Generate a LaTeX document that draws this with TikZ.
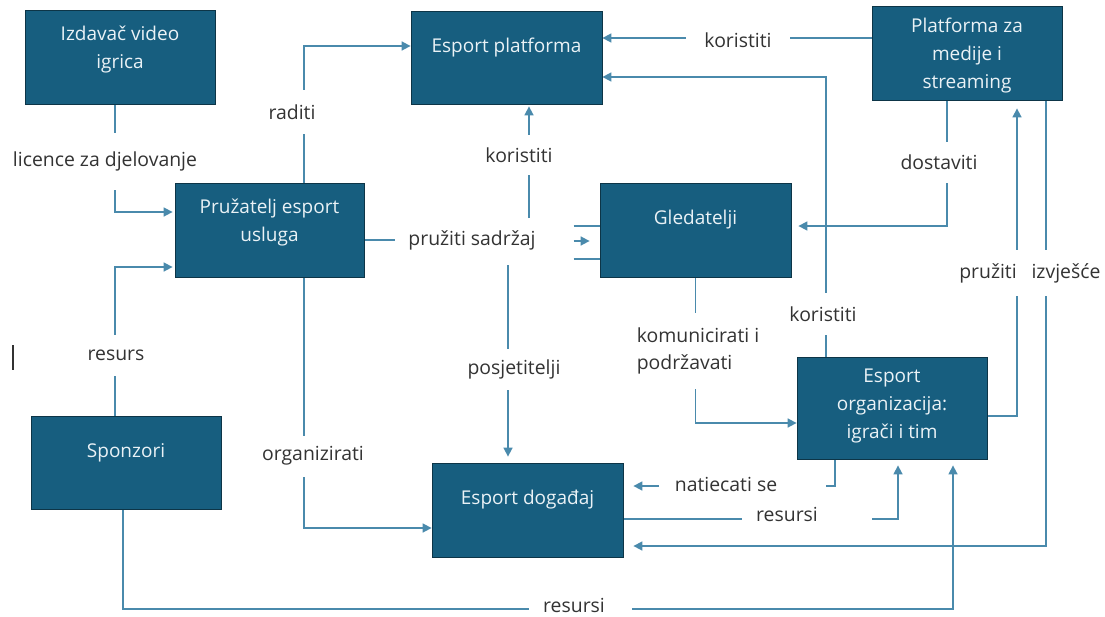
\documentclass[tikz,border=0pt]{standalone}
\usepackage{fontspec}
\setmainfont{Open Sans}
\usetikzlibrary{arrows.meta}
\pgfdeclarelayer{bg}
\pgfsetlayers{bg,main}
\definecolor{boxfill}{HTML}{175E7F}
\definecolor{boxline}{HTML}{0D3547}
\definecolor{conn}{HTML}{4A8AAC}
\definecolor{lbl}{HTML}{333333}
\definecolor{btxt}{HTML}{EAF2F6}
\tikzset{
  box/.style={draw=boxline, fill=boxfill, line width=0.8pt, inner sep=0pt},
  btext/.style={text=btxt, font=\fontsize{19}{28}\selectfont, align=center},
  lab/.style={fill=white, text=lbl, font=\fontsize{19.4}{27}\selectfont, inner xsep=2pt, inner ysep=0pt, align=left},
  txt/.style={text=lbl, font=\fontsize{19.4}{27}\selectfont, inner sep=0pt, align=left},
  conn/.style={draw=conn, line width=1.6pt},
  arr/.style={conn, -{Triangle[length=9pt,width=9pt]}},
}
\begin{document}
\begin{tikzpicture}[x=1pt,y=-1pt]
\useasboundingbox (0,0) rectangle (1105,616);
% boxes
\node[box, minimum width=190, minimum height=94, label={[btext, yshift=7pt]center:Izdavač video\\igrica}] (izd) at (120,57) {};
\node[box, minimum width=191, minimum height=93, label={[btext, yshift=9.5pt]center:Esport platforma}] (plat) at (506.5,57.5) {};
\node[box, minimum width=190, minimum height=94, label={[btext, yshift=-3pt]center:Platforma za\\medije i\\streaming}] (med) at (967,53) {};
\node[box, minimum width=189, minimum height=94, label={[btext, yshift=7.5pt]center:Pružatelj esport\\usluga}] (pruz) at (269.5,230) {};
\node[box, minimum width=191, minimum height=94, label={[btext, yshift=10pt]center:Gledatelji}] (gled) at (695.5,230) {};
\node[box, minimum width=190, minimum height=93, label={[btext, yshift=9.5pt]center:Sponzori}] (spon) at (126,462.5) {};
\node[box, minimum width=191, minimum height=94, label={[btext, yshift=10pt]center:Esport događaj}] (dog) at (527.5,510) {};
\node[box, minimum width=190, minimum height=102, label={[btext, yshift=2pt]center:Esport\\organizacija:\\igrači i tim}] (org) at (892,408) {};

\begin{pgfonlayer}{bg}
% connectors
\draw[arr, shorten >=2pt] ([xshift=-5pt]izd.south) |- ([yshift=18pt]pruz.west);
\draw[arr] ([xshift=34.5pt]pruz.north) |- ([yshift=11.5pt]plat.west);
\draw[arr, shorten >=2pt] ([xshift=-11pt]spon.north) |- ([yshift=-37pt]pruz.west);
\draw[arr] ([xshift=34.5pt]pruz.south) |- ([yshift=-18pt]dog.west);
\draw[arr] ([yshift=15pt]med.west) -- ([yshift=19.5pt]plat.east);
\draw[arr] ([xshift=-66pt]org.north) |- ([yshift=-19.5pt]plat.east);
\draw[arr, shorten >=7pt] ([xshift=-20pt]med.south) |- ([yshift=4pt]gled.east);
\draw[arr, shorten >=8pt] ([yshift=-8pt]org.east) -| ([xshift=50pt]med.south);
\draw[arr, shorten >=10pt] ([xshift=79pt]med.south) |- ([yshift=-36pt]dog.east);
\draw[arr] (gled.south) |- ([yshift=-15pt]org.west);

% hub of "pruziti sadrzaj"
\node[txt] (ps) at (472,240) {pružiti sadržaj};
\coordinate (hubW) at (395,240);
\coordinate (hubN) at (529,218);
\coordinate (hubS) at (508,265);
\draw[conn] ([yshift=-10pt]pruz.east) -- (hubW);
\draw[arr, shorten >=2pt] (hubN) -- ([xshift=22.5pt]plat.south);
\draw[arr, shorten >=6pt] (hubS) -- ([xshift=-19.5pt]dog.north);
\draw[arr] ([xshift=-26pt,yshift=-11pt]gled.west) -- ([xshift=-10pt,yshift=-11pt]gled.west);
\draw[conn] ([xshift=-26pt,yshift=4pt]gled.west) -- ([yshift=4pt]gled.west);
\draw[conn] ([xshift=-26pt,yshift=-29pt]gled.west) -- ([yshift=-29pt]gled.west);

% natiecati se
\coordinate (natE) at (826,486);
\coordinate (natW) at (659,486);
\draw[conn] ([xshift=-57pt]org.south) |- (natE);
\draw[arr, shorten >=10pt] (natW) -- ([yshift=24pt]dog.east);
\node[txt] (natl) at (726,484) {natiecati se};

% resursi (dogadaj -> organizacija)
\coordinate (res1W) at (742,519);
\coordinate (res1E) at (872,519);
\draw[conn] ([yshift=-9pt]dog.east) -- (res1W);
\draw[arr, shorten >=6pt] (res1E) -| ([xshift=6pt]org.south);
\node[txt] (res1l) at (787,514) {resursi};

% resursi (sponzori -> organizacija)
\coordinate (res2W) at (529,609);
\coordinate (res2E) at (632,609);
\draw[conn] ([xshift=-3pt]spon.south) |- (res2W);
\draw[arr, shorten >=6pt] (res2E) -| ([xshift=61pt]org.south);
\node[txt] (res2l) at (574,605) {resursi};

% gap labels
\node[lab, minimum height=57] (l1) at (105,161) {licence za djelovanje};
\node[lab, minimum height=44] (l2) at (292,112) {raditi};
\node[lab, minimum height=41] (l3) at (116,355) {resurs};
\node[lab, minimum height=41] (l4) at (313,456) {organizirati};
\node[lab, minimum height=40] (l5) at (519,155) {koristiti};
\node[lab, minimum height=41] (l6) at (514,369) {posjetitelji};
\node[lab, minimum height=20, minimum width=104] (l7) at (738,40) {koristiti};
\node[lab, minimum height=42] (l8) at (823,314) {koristiti};
\node[lab, minimum height=41] (l9) at (939,162) {dostaviti};
\node[lab, minimum height=46] (l10) at (988,273) {pružiti};
\node[lab, minimum height=46] (l11) at (1066,273) {izvješće};
\node[lab, minimum height=76] (l12) at (698,351) {komunicirati i\\podržavati};
\end{pgfonlayer}

% stray cursor mark
\draw[draw=lbl, line width=1.2pt] (13,345) -- (13,370);
\end{tikzpicture}
\end{document}
